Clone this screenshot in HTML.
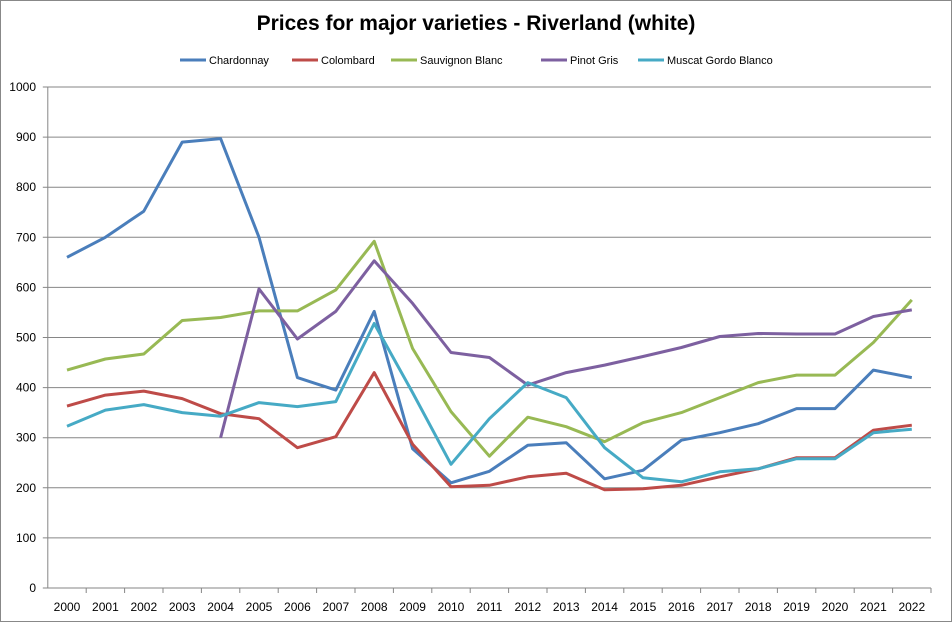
<!DOCTYPE html>
<html><head><meta charset="utf-8"><style>
body{margin:0;background:#fff;font-family:"Liberation Sans",sans-serif}
svg text{font-family:"Liberation Sans",sans-serif}
</style></head><body>
<svg id="c" width="952" height="622">
<rect x="0.5" y="0.5" width="951" height="621" fill="#fff" stroke="#888"/>
<text x="476" y="30" text-anchor="middle" font-size="21" font-weight="bold" fill="#000">Prices for major varieties - Riverland (white)</text>
<g id="legend"></g>
<g id="grid"></g>
<g id="axes"></g>
<g id="series"></g>
</svg>
<script>
const years=["2000","2001","2002","2003","2004","2005","2006","2007","2008","2009","2010","2011","2012","2013","2014","2015","2016","2017","2018","2019","2020","2021","2022"];
const yTicks=[0,100,200,300,400,500,600,700,800,900,1000];
const chardonnay=[660,700,752,890,897,700,420,395,552,278,210,233,285,290,218,235,295,310,328,358,358,435,420];
const colombard=[363,385,393,378,348,338,280,302,430,287,202,205,222,229,196,198,205,222,238,260,260,315,325];
const sauvignon=[435,457,467,534,540,553,553,595,692,478,352,263,341,322,292,330,350,380,410,425,425,490,575];
const pinotGris=[null,null,null,null,300,597,497,552,653,568,470,460,405,430,445,462,480,502,508,507,507,542,555];
const muscat=[323,355,366,350,343,370,362,372,528,390,247,338,410,380,280,220,212,232,238,258,258,310,317];
const names=["Chardonnay","Colombard","Sauvignon Blanc","Pinot Gris","Muscat Gordo Blanco"];
const colors=["#4a7ebb","#be4b48","#98b954","#7d60a0","#46aac5"];
const seriesData=[chardonnay,colombard,sauvignon,pinotGris,muscat];
const NS="http://www.w3.org/2000/svg";
const L=47.8,R=931,T=87,B=588,max=1000;
const bw=(R-L)/years.length;
const xs=i=>L+bw*(i+0.5);
const ys=v=>B-(v/max)*(B-T);
function mk(t,a,p){const e=document.createElementNS(NS,t);for(const k in a)e.setAttribute(k,a[k]);p.appendChild(e);return e;}
const grid=document.getElementById('grid'),axes=document.getElementById('axes'),ser=document.getElementById('series'),leg=document.getElementById('legend');
yTicks.forEach(v=>{
 const ln=mk('line',{x1:L-5,x2:R,y1:ys(v),y2:ys(v),stroke:v===0?'#868686':'#868686','stroke-width':1},grid);
 
 
 const t=mk('text',{x:36,y:ys(v)+4,'text-anchor':'end','font-size':12,fill:'#000'},axes);
 t.textContent=v;
 
 
});
mk('line',{x1:L,x2:L,y1:T,y2:B,stroke:'#868686'},axes);
years.forEach((y,i)=>{
 const tk=mk('line',{x1:L+bw*(i+1),x2:L+bw*(i+1),y1:B,y2:B+5,stroke:'#868686'},axes);
 
 
 const t=mk('text',{x:xs(i),y:611,'text-anchor':'middle','font-size':12,fill:'#000'},axes);
 t.textContent=y;
 
 
});
seriesData.forEach((d,s)=>{
 let pts=[];d.forEach((v,i)=>{if(v!=null)pts.push(xs(i).toFixed(1)+','+ys(v).toFixed(1));});
 const p=mk('polyline',{points:pts.join(' '),fill:'none',stroke:colors[s],'stroke-width':3,'stroke-linejoin':'round'},ser);
 
 
});
const lx=[180,292,391,541,638];
names.forEach((n,s)=>{
 const g=mk('g',{},leg);
 
 
 mk('line',{x1:lx[s],x2:lx[s]+26,y1:60,y2:60,stroke:colors[s],'stroke-width':3},g);
 const t=mk('text',{x:lx[s]+29,y:64,'font-size':11,fill:'#000'},g);
 t.textContent=n;
});
</script>
</body></html>
